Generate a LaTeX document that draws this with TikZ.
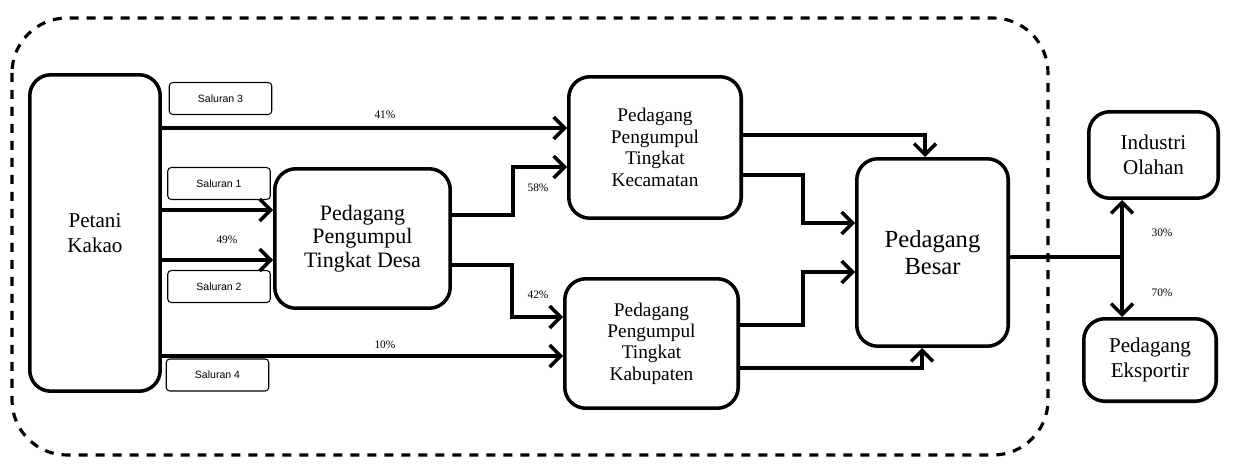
\documentclass[tikz,border=0pt]{standalone}
\usepackage{fontspec}
\setmainfont{Liberation Serif}
\newfontfamily\salfont{Liberation Sans}
\usetikzlibrary{positioning,arrows.meta,calc}

\begin{document}
\begin{tikzpicture}[
  x=0.02cm, y=-0.02cm,
  box/.style={draw,line width=2pt,rounded corners=12pt,align=center,inner sep=2pt},
  chan/.style={draw,line width=0.6pt,rounded corners=2pt,minimum width=2.05cm,minimum height=0.64cm,inner sep=1pt,font=\salfont\fontsize{6}{7}\selectfont},
  ar/.style={line width=2pt,-{Straight Barb[length=2.2mm,width=4.4mm,line width=2pt]}},
  ln/.style={line width=2pt},
  pct/.style={font=\fontsize{6.5}{7}\selectfont}
]
\useasboundingbox (0,0) rectangle (1233,466);
\draw[line width=1.8pt,dash pattern=on 0.18cm off 0.16cm,rounded corners=1.1cm] (12,18) rectangle (1048,455);

\node[box,minimum width=2.61cm,minimum height=6.33cm,font=\fontsize{12}{14.2}\selectfont] (petani) at (95,233) {Petani\\Kakao};
\node[box,minimum width=3.51cm,minimum height=2.79cm,font=\fontsize{12.5}{13.4}\selectfont] (desa) at (362.5,238.5) {Pedagang\\Pengumpul\\Tingkat Desa};
\node[box,minimum width=3.45cm,minimum height=2.83cm,font=\fontsize{11}{12.2}\selectfont] (kec) at (655,147.5) {Pedagang\\Pengumpul\\Tingkat\\Kecamatan};
\node[box,minimum width=3.47cm,minimum height=2.59cm,font=\fontsize{11}{12.2}\selectfont] (kab) at (651.5,343.5) {Pedagang\\Pengumpul\\Tingkat\\Kabupaten};
\node[box,minimum width=3.03cm,minimum height=3.75cm,font=\fontsize{14}{15.5}\selectfont] (besar) at (932.5,252.5) {Pedagang\\Besar};
\node[box,minimum width=2.59cm,minimum height=1.73cm,font=\fontsize{12}{14.2}\selectfont] (industri) at (1153.5,155) {Industri\\Olahan};
\node[box,minimum width=2.65cm,minimum height=1.65cm,font=\fontsize{12}{14.2}\selectfont] (ekspor) at (1150,360) {Pedagang\\Eksportir};

\node[chan] (sal3) at (220.5,98.5) {Saluran 3};
\node[chan] (sal1) at (219,183.5) {Saluran 1};
\node[chan] (sal2) at (219,286.5) {Saluran 2};
\node[chan] (sal4) at (217.5,375) {Saluran 4};

\draw[ar] (petani.east |- 0,128) -- (kec.west |- 0,128);
\draw[ar] (petani.east |- 0,210) -- (desa.west |- 0,210);
\draw[ar] (petani.east |- 0,260) -- (desa.west |- 0,260);
\draw[ar] (petani.east |- 0,356) -- (kab.west |- 0,356);
\draw[ar] (desa.east |- 0,215) -| (513,167) -- (kec.west |- 0,167);
\draw[ar] (desa.east |- 0,265) -| (512,317) -- (kab.west |- 0,317);
\draw[ar] (kec.east |- 0,135) -| ([xshift=-0.15cm]besar.north);
\draw[ar] (kec.east |- 0,175) -| (803,223) -- (besar.west |- 0,223);
\draw[ar] (kab.east |- 0,325) -| (803,272) -- (besar.west |- 0,272);
\draw[ar] (kab.east |- 0,368) -| ([xshift=-0.21cm]besar.south);
\draw[ln] (besar.east |- 0,257) -- (1122,257) coordinate (split);
\draw[ar] (split) -- (split |- industri.south);
\draw[ar] (split) -- (split |- ekspor.north);

\node[pct] (p41) at (385,115) {41\%};
\node[pct] (p49) at (227,240) {49\%};
\node[pct] (p10) at (385,345) {10\%};
\node[pct] (p58) at (538,188) {58\%};
\node[pct] (p42) at (538,295) {42\%};
\node[pct] (p30) at (1162,233) {30\%};
\node[pct] (p70) at (1162,293) {70\%};
\end{tikzpicture}
\end{document}
